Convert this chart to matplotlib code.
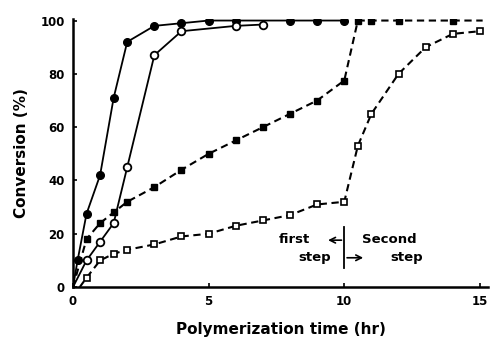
import matplotlib
matplotlib.use("Agg")
import matplotlib.pyplot as plt

# Filled circles (solid line)
fc_x = [0.17, 0.5, 1.0, 1.5, 2.0, 3.0, 4.0, 5.0, 6.0, 8.0, 9.0, 10.0]
fc_y = [10, 27.5, 42, 71, 92, 98, 99, 100, 100, 100, 100, 100]
# Open circles (solid line)
oc_x = [0.5, 1.0, 1.5, 2.0, 3.0, 4.0, 6.0, 7.0]
oc_y = [10, 17, 24, 45, 87, 96, 98, 98.5]
# Filled squares (dashed line)
fs_x = [0.5, 1.0, 1.5, 2.0, 3.0, 4.0, 5.0, 6.0, 7.0, 8.0, 9.0, 10.0, 10.5, 11.0, 12.0, 14.0]
fs_y = [18, 24, 28, 32, 37.5, 44, 50, 55, 60, 65, 70, 77.5, 100, 100, 100, 100]
# Open squares (dashed line)
os_x = [0.5, 1.0, 1.5, 2.0, 3.0, 4.0, 5.0, 6.0, 7.0, 8.0, 9.0, 10.0, 10.5, 11.0, 12.0, 13.0, 14.0, 15.0]
os_y = [3.5, 10, 12.5, 14, 16, 19, 20, 23, 25, 27, 31, 32, 53, 65, 80, 90, 95, 96]

x_ticks = [0, 5, 10, 15]
y_ticks = [0, 20, 40, 60, 80, 100]

fig = plt.figure(figsize=(4.93, 3.43), dpi=100)
ax = fig.add_axes([0.148, 0.163, 0.842, 0.781])

dash = (0, (3.5, 2.2))
# lines
ax.plot([0] + fc_x, [0] + fc_y, color='black', lw=1.3)
ax.plot([0] + oc_x, [0] + oc_y, color='black', lw=1.3)
ax.plot([0] + fs_x + [15.1], [0] + fs_y + [fs_y[-1]], color='black', lw=1.5, linestyle=dash)
ax.plot([0.25] + os_x, [0] + os_y, color='black', lw=1.5, linestyle=dash)
# markers
ax.plot(fc_x, fc_y, 'o', color='black', ms=5.5)
ax.plot(oc_x, oc_y, 'o', mfc='white', mec='black', mew=1.3, ms=5.5)
ax.plot(fs_x, fs_y, 's', color='black', ms=4.5)
ax.plot(os_x, os_y, 's', mfc='white', mec='black', mew=1.2, ms=4.5)

# annotation
ax.plot([10, 10], [7, 22.5], color='black', lw=1.3)
ax.annotate('', xy=(9.3, 17.6), xytext=(10, 17.6),
            arrowprops=dict(arrowstyle='->', lw=1.2, color='black'))
ax.annotate('', xy=(10.8, 11), xytext=(10, 11),
            arrowprops=dict(arrowstyle='->', lw=1.2, color='black'))
tk = dict(fontsize=9.5, fontweight='bold', ha='center', va='center')
ax.text(8.15, 18, 'first', **tk)
ax.text(8.9, 11, 'step', **tk)
ax.text(11.65, 18, 'Second', **tk)
ax.text(12.3, 11, 'step', **tk)

ax.set_xlim(0, 15.3)
ax.set_ylim(0, 100.5)
ax.set_xticks(x_ticks)
ax.set_yticks(y_ticks)
ax.set_xticklabels([str(v) for v in x_ticks], fontweight='bold', fontsize=8.5)
ax.set_yticklabels([str(v) for v in y_ticks], fontweight='bold', fontsize=8.5)
ax.tick_params(direction='in', length=3, width=1.2, pad=6)
for s in ['top', 'right']:
    ax.spines[s].set_visible(False)
for s in ['left', 'bottom']:
    ax.spines[s].set_linewidth(1.8)
ax.set_xlabel('Polymerization time (hr)', fontsize=11, fontweight='bold', labelpad=10)
ax.set_ylabel('Conversion (%)', fontsize=11, fontweight='bold', labelpad=8)

fig.savefig('out.png', dpi=100)
